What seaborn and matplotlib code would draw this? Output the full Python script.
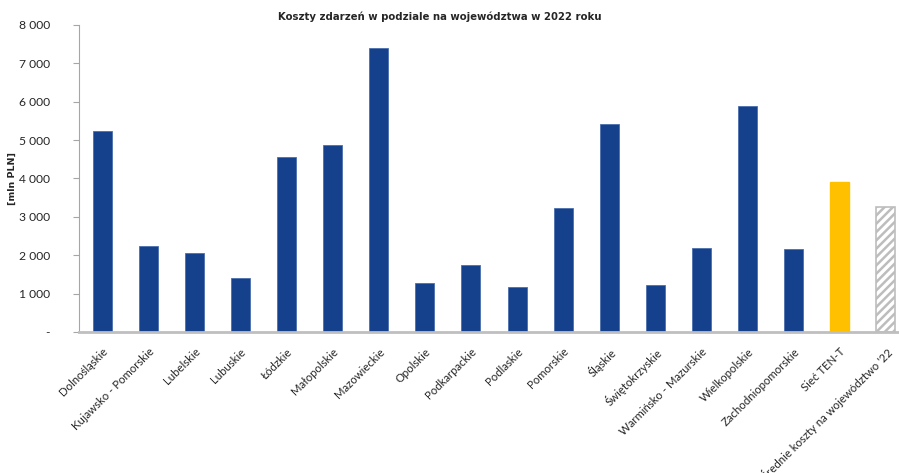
import matplotlib
matplotlib.use("Agg")
import matplotlib.pyplot as plt
import seaborn as sns
import pandas as pd
from matplotlib.ticker import FuncFormatter

regions = [
    "Dolnośląskie", "Kujawsko - Pomorskie", "Lubelskie", "Lubuskie", "Łódzkie",
    "Małopolskie", "Mazowieckie", "Opolskie", "Podkarpackie", "Podlaskie",
    "Pomorskie", "Śląskie", "Świętokrzyskie", "Warmińsko - Mazurskie",
    "Wielkopolskie", "Zachodniopomorskie", "Sieć TEN-T",
    "Średnie koszty na województwo '22",
]
costs = [5230, 2240, 2065, 1400, 4550, 4860, 7400, 1265, 1745, 1180,
         3220, 5415, 1215, 2180, 5885, 2155, 3905, 3255]
kinds = ["woj"] * 16 + ["ten", "avg"]

df = pd.DataFrame({"region": regions, "cost": costs, "kind": kinds})

sns.set_theme(style="white")
plt.rcParams["font.family"] = ["DejaVu Sans"]
plt.rcParams["hatch.color"] = "#BDBDBD"
plt.rcParams["hatch.linewidth"] = 1.8

fig = plt.figure(figsize=(8.99, 4.73), dpi=100)
ax = fig.add_axes([79 / 899, 1 - 332 / 473, 830 / 899, 307 / 473])

palette = {"woj": "#15418C", "ten": "#FFC000", "avg": "#FFFFFF"}
sns.barplot(data=df, x="region", y="cost", hue="kind", palette=palette,
            dodge=False, width=0.41, legend=False, ax=ax, saturation=1)

# outline styles; the average bar is hatched
for patch, k in zip(ax.patches, kinds):
    if k == "avg":
        patch.set_hatch("////")
        patch.set_edgecolor("#BDBDBD")
        patch.set_linewidth(1.2)
    elif k == "woj":
        patch.set_edgecolor("#4A6EAE")
        patch.set_linewidth(0.6)
    else:
        patch.set_edgecolor("#FFC000")

ax.set_ylim(0, 8000)
ax.set_xlim(-0.5, 17.5)
ax.set_yticks(range(0, 8001, 1000))
ax.yaxis.set_major_formatter(FuncFormatter(
    lambda v, p: "-" if v == 0 else f"{int(v):,}".replace(",", " ")))

for s in ["top", "right"]:
    ax.spines[s].set_visible(False)
ax.spines["left"].set_color("#A6A6A6")
ax.spines["left"].set_linewidth(0.8)
ax.spines["bottom"].set_color("#BFBFBF")
ax.spines["bottom"].set_linewidth(2.0)

ax.tick_params(axis="y", which="major", left=True, length=4, width=0.8,
               color="#A6A6A6", labelsize=8.7, labelcolor="#262626", pad=17)
ax.tick_params(axis="x", bottom=False, labelsize=8.2, labelcolor="#262626", pad=4)
plt.setp(ax.get_xticklabels(), rotation=45, ha="right",
         rotation_mode="anchor", fontfamily="Lato")
plt.setp(ax.get_yticklabels(), fontfamily="Lato")

ax.set_xlabel("")
ax.set_ylabel("[mln PLN]", fontsize=6.8, fontweight="bold")
ax.yaxis.set_label_coords(-0.075, 0.5)

fig.text(440 / 899, 1 - 17 / 473,
         "Koszty zdarzeń w podziale na województwa w 2022 roku",
         ha="center", va="center", fontsize=7.3, fontweight="bold")

fig.savefig("out.png", dpi=100)
